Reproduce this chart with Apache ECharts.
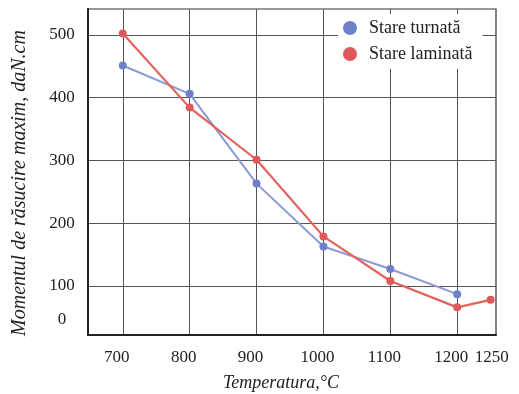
<!DOCTYPE html>
<html><head><meta charset="utf-8">
<script src="https://cdn.jsdelivr.net/npm/echarts@6/dist/echarts.min.js"></script>
<style>html,body{margin:0;padding:0;background:#fff}#c{width:519px;height:394px}</style>
</head><body><div id="c"></div>
<script>
const temps = [700, 800, 900, 1000, 1100, 1200];
const tempsLam = [700, 800, 900, 1000, 1100, 1200, 1250];
const turnata = [451, 406, 263, 163, 127, 87];
const laminata = [502, 384, 301, 179, 108, 66, 78];
const xTickValues = [700, 800, 900, 1000, 1100, 1200];
const xLabelValues = [700, 800, 900, 1000, 1100, 1200, 1250];
const yTickValues = [100, 200, 300, 400, 500];
const yLabelValues = [46, 100, 200, 300, 400, 500];
const yLabelTexts = ['0', '100', '200', '300', '400', '500'];
const seriesNames = ['Stare turnată', 'Stare laminată'];

const serif = '"Liberation Serif", "DejaVu Serif", serif';
const chart = echarts.init(document.getElementById('c'));
chart.setOption({
  animation: false,
  grid: {left: 88, top: 9, right: 23, bottom: 59, show: true, borderColor: '#333', borderWidth: 1.2,
         outerBoundsMode: 'none', containLabel: false},
  legend: {
    data: seriesNames, orient: 'vertical', left: 338, top: 14,
    backgroundColor: '#fff', padding: [5, 10, 6, 5], icon: 'circle',
    itemWidth: 14, itemHeight: 14, itemGap: 8,
    textStyle: {fontFamily: serif, fontSize: 18, color: '#222', padding: [2, 0, 0, 7]}
  },
  xAxis: {
    type: 'value', min: 648, max: 1258,
    name: 'Temperatura,°C', nameLocation: 'middle', nameGap: 39,
    nameTextStyle: {fontFamily: serif, fontStyle: 'italic', fontSize: 18, color: '#222', padding: [0, 22, 0, 0]},
    axisLine: {lineStyle: {color: '#222', width: 2}},
    axisTick: {show: false, customValues: xTickValues},
    splitLine: {show: true, lineStyle: {color: '#555', width: 1}},
    axisLabel: {customValues: xLabelValues, interval: 0, fontFamily: serif, fontSize: 17, color: '#222', margin: 14,
      hideOverlap: false, showMaxLabel: true, showMinLabel: true,
      formatter: v => v === 1250 ? '{e|' + v + '}' : '{s|' + v + '}',
      rich: {s: {fontFamily: serif, fontSize: 17, color: '#222', padding: [0, 12, 0, 0]},
             e: {fontFamily: serif, fontSize: 17, color: '#222', padding: [0, 0, 0, 2]}}}
  },
  yAxis: {
    type: 'value', min: 22, max: 541,
    name: 'Momentul de răsucire maxim, daN.cm', nameLocation: 'middle', nameGap: 58, nameRotate: 90,
    nameTextStyle: {fontFamily: serif, fontStyle: 'italic', fontSize: 20, color: '#222', padding: [0, 22, 0, 0]},
    axisLine: {show: true, lineStyle: {color: '#222', width: 2}},
    axisTick: {show: false, customValues: yTickValues},
    splitLine: {show: true, lineStyle: {color: '#555', width: 1}},
    axisLabel: {customValues: yLabelValues, fontFamily: serif, fontSize: 17, color: '#222', margin: 26, align: 'center',
      formatter: v => yLabelTexts[yLabelValues.indexOf(v)]}
  },
  series: [
    {name: seriesNames[0], type: 'line', data: temps.map((t, i) => [t, turnata[i]]),
     symbol: 'circle', symbolSize: 8, lineStyle: {color: '#8b9ad6', width: 2},
     itemStyle: {color: '#7080c8'}},
    {name: seriesNames[1], type: 'line', data: tempsLam.map((t, i) => [t, laminata[i]]),
     symbol: 'circle', symbolSize: 8, lineStyle: {color: '#e2625e', width: 2.2},
     itemStyle: {color: '#e0595a'}}
  ]
});
</script></body></html>
